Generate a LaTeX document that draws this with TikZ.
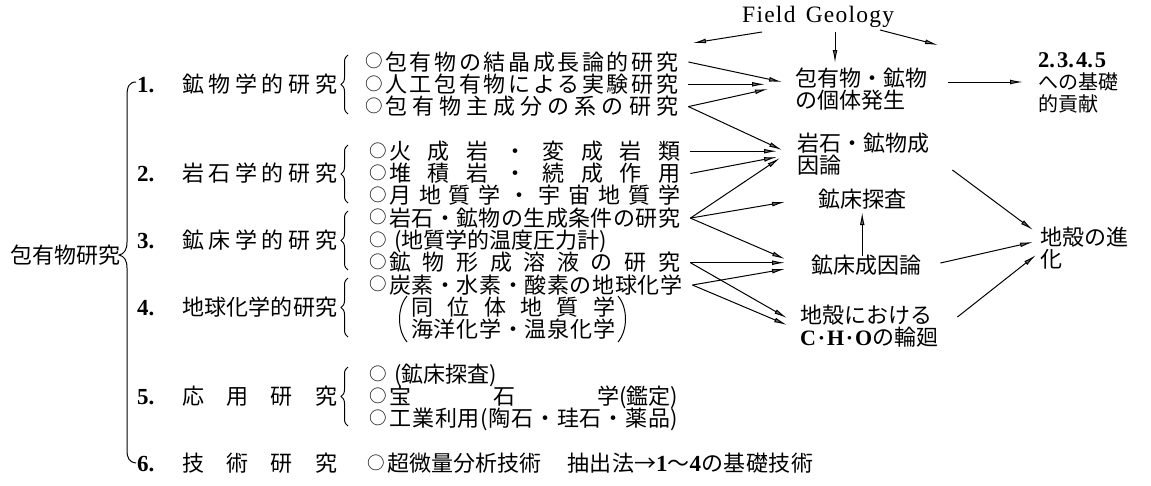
\documentclass[tikz,border=0pt]{standalone}
\usepackage{fontspec}
\setmainfont{Noto Sans CJK JP}
\newfontfamily\lat{Liberation Serif}
\usetikzlibrary{arrows.meta,decorations.pathreplacing}
\newcommand\maru{\makebox[20pt][l]{\raisebox{2.2pt}{\fontsize{17.5}{17.5}\selectfont ○}}}
\newcommand\g{\hfil}
\begin{document}
\begin{tikzpicture}[x=1pt,y=-1pt,
  t/.style={font=\fontsize{22}{22}\selectfont, inner sep=0pt, anchor=west, text height=19pt, text depth=3pt},
  ts/.style={font=\fontsize{20}{20}\selectfont, inner sep=0pt, anchor=west, text height=17pt, text depth=2.7pt},
  num/.style={font=\lat\bfseries\fontsize{23}{23}\selectfont, inner sep=0pt, anchor=west, text height=15.5pt, text depth=0pt},
  cnum/.style={font=\lat\bfseries\fontsize{22.5}{22.5}\selectfont, inner sep=0pt, anchor=west, text height=15pt, text depth=0pt},
  fgs/.style={font=\lat\fontsize{23.5}{23.5}\selectfont, inner sep=0pt, anchor=west, text height=15.5pt, text depth=0pt},
  arr/.style={line width=1pt, -{Latex[length=13pt,width=4.8pt,fill=black!55]}},
  br/.style={line width=1pt},
  sbr/.style={line width=1pt, decorate, decoration={brace, amplitude=7pt}}
]
\useasboundingbox (0,0) rectangle (1151,485);

% root and big brace
\node[t] (root) at (10,255) {包有物研究};
\draw[br] (136,82) .. controls (129,82) and (127,87) .. (127,96) -- (127,242)
  .. controls (127,250) and (124,254) .. (119,255)
  .. controls (124,256) and (127,260) .. (127,268) -- (127,450)
  .. controls (127,458) and (129,462) .. (136,463);

% numbers
\node[num] (n1) at (137,84.3) {1.};
\node[num] (n2) at (137,173.5) {2.};
\node[num] (n3) at (137,240.4) {3.};
\node[num] (n4) at (137,307.3) {4.};
\node[num] (n5) at (137,396.5) {5.};
\node[num] (n6) at (137,463.4) {6.};

% row labels
\node[t] (l1) at (182,84.3) {\hbox to 155pt{鉱\g 物\g 学\g 的\g 研\g 究}};
\node[t] (l2) at (182,173.5) {\hbox to 155pt{岩\g 石\g 学\g 的\g 研\g 究}};
\node[t] (l3) at (182,240.4) {\hbox to 155pt{鉱\g 床\g 学\g 的\g 研\g 究}};
\node[t] (l4) at (182,307.3) {\hbox to 155pt{地\g 球\g 化\g 学\g 的\g 研\g 究}};
\node[t] (l5) at (182,396.5) {\hbox to 155pt{応\g 用\g 研\g 究}};
\node[t] (l6) at (182,463.4) {\hbox to 155pt{技\g 術\g 研\g 究}};

% small braces
\draw[sbr] (348,114) -- (348,55);
\draw[sbr] (348,203) -- (348,145);
\draw[sbr] (348,270) -- (348,211);
\draw[sbr] (348,337) -- (348,278);
\draw[sbr] (348,426) -- (348,367);

% items row 1
\node[t] (r1a) at (365,62) {\hbox to 313pt{\maru 包\g 有\g 物\g の\g 結\g 晶\g 成\g 長\g 論\g 的\g 研\g 究}};
\node[t] (r1b) at (365,84.3) {\hbox to 313pt{\maru 人\g 工\g 包\g 有\g 物\g に\g よ\g る\g 実\g 験\g 研\g 究}};
\node[t] (r1c) at (365,106.6) {\hbox to 313pt{\maru 包\g 有\g 物\g 主\g 成\g 分\g の\g 系\g の\g 研\g 究}};
% row 2
\node[t] (r2a) at (369,151.2) {\hbox to 311pt{\maru 火\g 成\g 岩\g ・\g 変\g 成\g 岩\g 類}};
\node[t] (r2b) at (369,173.5) {\hbox to 311pt{\maru 堆\g 積\g 岩\g ・\g 続\g 成\g 作\g 用}};
\node[t] (r2c) at (369,195.8) {\hbox to 311pt{\maru 月\g 地\g 質\g 学\g ・\g 宇\g 宙\g 地\g 質\g 学}};
% row 3
\node[t] (r3a) at (369,218.1) {\hbox to 311pt{\maru 岩\g 石\g ・\g 鉱\g 物\g の\g 生\g 成\g 条\g 件\g の\g 研\g 究}};
\node[t] (r3b) at (369,240.4) {\maru\ (地質学的温度圧力計)};
\node[t] (r3c) at (369,262.7) {\hbox to 311pt{\maru 鉱\g 物\g 形\g 成\g 溶\g 液\g の\g 研\g 究}};
% row 4
\node[t] (r4a) at (369,285) {\hbox to 313pt{\maru 炭\g 素\g ・\g 水\g 素\g ・\g 酸\g 素\g の\g 地\g 球\g 化\g 学}};
\node[t] (r4b) at (411,307.3) {\hbox to 204pt{同\g 位\g 体\g 地\g 質\g 学}};
\node[t] (r4c) at (411,329.6) {\hbox to 204pt{海\g 洋\g 化\g 学\g ・\g 温\g 泉\g 化\g 学}};
\draw[br] (407,296) .. controls (397,308) and (397,330) .. (407,342);
\draw[br] (618,296) .. controls (628,308) and (628,330) .. (618,342);
% row 5
\node[t] (r5a) at (369,374.2) {\maru\ (鉱床探査)};
\node[t] (r5b) at (369,396.5) {\hbox to 309pt{\maru 宝\g 石\g 学(鑑定)}};
\node[t] (r5c) at (369,418.8) {\hbox to 309pt{\maru 工\g 業\g 利\g 用\g (陶\g 石\g ・\g 珪\g 石\g ・\g 薬\g 品)}};
% row 6
\node[t] (r6a) at (367,463.4) {\maru 超微量分析技術};
\node[t] (r6b) at (567,463.4) {\hbox to 246pt{抽\g 出\g 法→{\lat\bfseries\fontsize{23}{23}\selectfont 1}～{\lat\bfseries\fontsize{23}{23}\selectfont 4}\g の\g 基\g 礎\g 技\g 術}};

% right side
\node[fgs] (fg) at (742,15) {\hbox to 152pt{F\g i\g e\g l\g d\hskip 9pt plus 1fil G\g e\g o\g l\g o\g g\g y}};
\node[t] (ont1) at (795,78) {包有物・鉱物};
\node[t] (ont2) at (795,100) {の個体発生};
\node[cnum] (con1) at (1038,60) {\hbox to 68pt{2.\g 3.\g 4.\g 5}};
\node[ts] (con2) at (1038,82) {への基礎};
\node[ts] (con3) at (1038,104) {的貢献};
\node[t] (gen1) at (797,143) {岩石・鉱物成};
\node[t] (gen2) at (797,165) {因論};
\node[t] (exp) at (818,199) {鉱床探査};
\node[t] (ori) at (811,265) {鉱床成因論};
\node[t] (cho1) at (800,315) {地殻における};
\node[t] (cho2) at (800,337) {\hbox to 72pt{\lat\bfseries\fontsize{22}{22}\selectfont C\g ·\g H\g ·\g O}の輪廻};
\node[t] (evo1) at (1040,237) {地殻の進};
\node[t] (evo2) at (1040,259) {化};

\coordinate (a1t) at (693,43);
\coordinate (a3t) at (938,45);

% Field Geology arrows
\draw[arr] ([shift={(20,17)}]fg.west) -- (a1t);
\draw[arr] ([shift={(93,17)}]fg.west) -- ([shift={(40,-15)}]ont1.west);
\draw[arr] ([shift={(138,15)}]fg.west) -- (a3t);

% row arrows
\draw[arr] ([shift={(10,0)}]r1a.east) -- ([shift={(-13,4)}]ont1.west);
\draw[arr] ([shift={(10,0)}]r1b.east) -- ([shift={(-30,6.3)}]ont1.west);
\draw[arr] ([shift={(10,0)}]r1c.east) -- ([shift={(-27,11)}]ont1.west);
\draw[arr] ([shift={(10,0)}]r1c.east) -- ([shift={(-15,7)}]gen1.west);
\draw[arr] ([shift={(10,0)}]r2a.east) -- ([shift={(-20,8.2)}]gen1.west);
\draw[arr] ([shift={(10,0)}]r2b.east) -- ([shift={(-20,14)}]gen1.west);
\draw[arr] ([shift={(10,0)}]r3a.east) -- ([shift={(-17,15)}]gen1.west);
\draw[arr] ([shift={(10,0)}]r3a.east) -- ([shift={(-33,3)}]exp.west);
\draw[arr] ([shift={(10,0)}]r3a.east) -- ([shift={(-26,-6)}]ori.west);
\draw[arr] ([shift={(10,0)}]r3c.east) -- ([shift={(-26,-2.3)}]ori.west);
\draw[arr] ([shift={(10,0)}]r3c.east) -- ([shift={(-13,3)}]cho1.west);
\draw[arr] ([shift={(10,0)}]r4a.east) -- ([shift={(-26,4)}]ori.west);
\draw[arr] ([shift={(10,0)}]r4a.east) -- ([shift={(-13,10)}]cho1.west);

% right arrows
\draw[arr] ([shift={(21,4)}]ont1.east) -- ([shift={(-15,0)}]con2.west);
\draw[arr] ([shift={(23,27)}]gen1.east) -- ([shift={(-7,-7)}]evo1.west);
\draw[arr] ([shift={(19,-2)}]ori.east) -- ([shift={(-7,5)}]evo1.west);
\draw[arr] ([shift={(25,2)}]cho1.east) -- ([shift={(-4,-4)}]evo2.west);
\draw[arr] ([shift={(-4,2)}]ori.north) -- ([shift={(0,2)}]exp.south);
\end{tikzpicture}
\end{document}
